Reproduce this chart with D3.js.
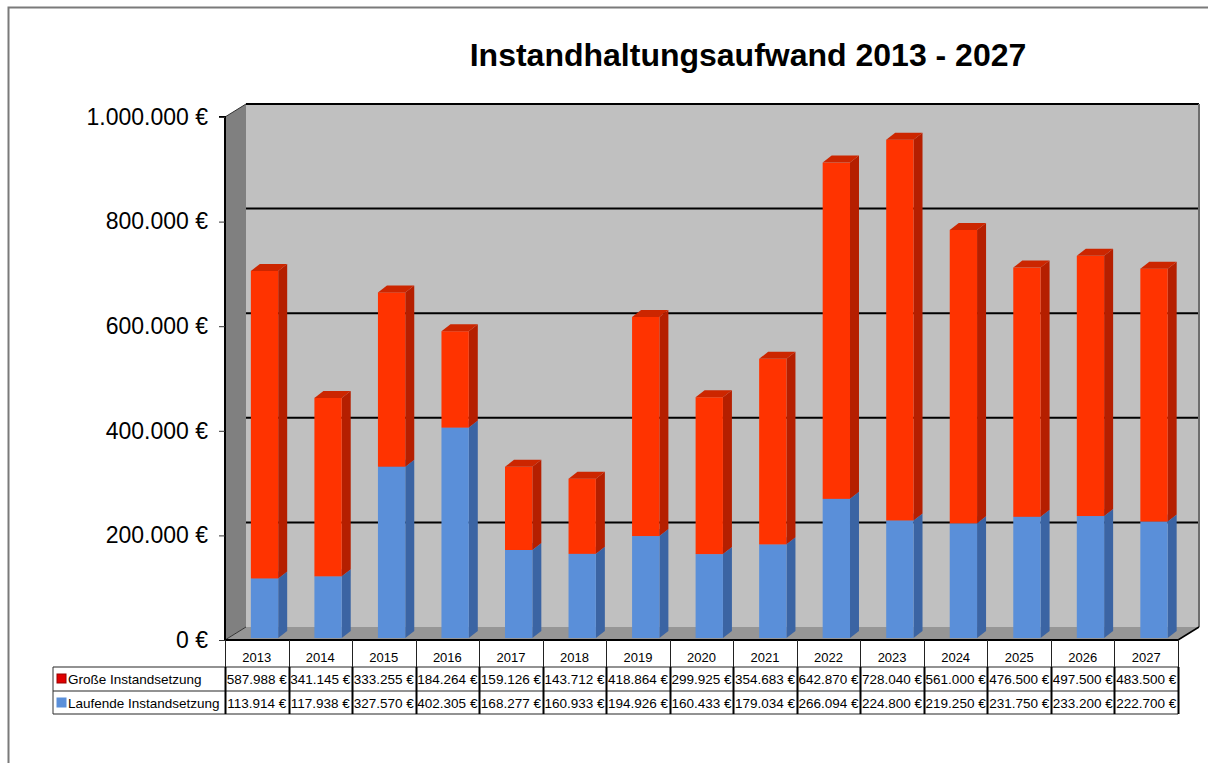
<!DOCTYPE html>
<html>
<head>
<meta charset="utf-8">
<script src="https://cdn.jsdelivr.net/npm/d3@7"></script>
<style>
  html, body { margin: 0; background: #fff; overflow: hidden; }
  svg { display: block; }
  text { font-family: "Liberation Sans", Arial, sans-serif; }
</style>
</head>
<body>
<div class="content"></div>
<script>
// chart data
var years = ["2013", "2014", "2015", "2016", "2017", "2018", "2019", "2020",
  "2021", "2022", "2023", "2024", "2025", "2026", "2027"];
var grosse = [587988, 341145, 333255, 184264, 159126, 143712, 418864, 299925,
  354683, 642870, 728040, 561000, 476500, 497500, 483500];
var laufende = [113914, 117938, 327570, 402305, 168277, 160933, 194926, 160433,
  179034, 266094, 224800, 219250, 231750, 233200, 222700];
var yTicks = [0, 200000, 400000, 600000, 800000, 1000000];
var seriesNames = ["Große Instandsetzung", "Laufende Instandsetzung"];

var svgWidth = 1208;
var svgHeight = 763;

// plot area (front plane)
var plot = { left: 225, right: 1178, top: 117, bottom: 640 };
// 3d offsets
var wall = { dx: 21, dy: -13 };
var barOff = { dx: 3, dy: -2 };
var barDepth = { dx: 9, dy: -7 };

var de = d3.formatLocale({ decimal: ",", thousands: ".", grouping: [3], currency: ["", " €"] });
var fmt = de.format(",.0f");
var euro = d => fmt(d) + " €";

var svg = d3.select(".content")
  .append("svg")
  .attr("width", svgWidth)
  .attr("height", svgHeight);

// outer frame (only top and left edges are inside the picture)
svg.append("path")
  .attr("d", `M8.5,${svgHeight}V7.5H${svgWidth}`)
  .attr("fill", "none")
  .attr("stroke", "#7a7a7a")
  .attr("stroke-width", 2);

// title
svg.append("text")
  .attr("x", 748).attr("y", 66)
  .attr("text-anchor", "middle")
  .style("font-size", "32px")
  .style("font-weight", "bold")
  .text("Instandhaltungsaufwand 2013 - 2027");

var x = d3.scaleBand()
  .domain(years)
  .range([plot.left, plot.right]);

var y = d3.scaleLinear()
  .domain([0, 1000000])
  .range([plot.bottom, plot.top]);

var bw = x.bandwidth();

function pts(arr) { return arr.map(p => p.join(",")).join(" "); }

// back wall
var bx0 = plot.left + wall.dx, bx1 = plot.right + wall.dx;
var by0 = plot.top + wall.dy, by1 = plot.bottom + wall.dy;
svg.append("rect")
  .attr("x", bx0).attr("y", by0)
  .attr("width", bx1 - bx0).attr("height", by1 - by0)
  .attr("fill", "#c0c0c0");

// left wall
svg.append("polygon")
  .attr("points", pts([[plot.left, plot.top], [bx0, by0], [bx0, by1], [plot.left, plot.bottom]]))
  .attr("fill", "#808080");

// floor
svg.append("polygon")
  .attr("points", pts([[plot.left, plot.bottom], [bx0, by1], [bx1, by1], [plot.right, plot.bottom]]))
  .attr("fill", "#969696");

// gridlines on back wall
svg.append("g").selectAll("line")
  .data(yTicks.filter(d => d > 0))
  .enter().append("line")
  .attr("x1", bx0).attr("x2", bx1)
  .attr("y1", d => y(d) + wall.dy).attr("y2", d => y(d) + wall.dy)
  .attr("stroke", "#000")
  .attr("stroke-width", 2);

// right edge of back wall
svg.append("line")
  .attr("x1", bx1).attr("x2", bx1)
  .attr("y1", by0).attr("y2", by1)
  .attr("stroke", "#6e6e6e").attr("stroke-width", 2);

// floor edges
svg.append("polyline")
  .attr("points", pts([[plot.left, plot.bottom], [bx0, by1]]))
  .attr("fill", "none").attr("stroke", "#333").attr("stroke-width", 1);
svg.append("polyline")
  .attr("points", pts([[plot.right, plot.bottom], [bx1, by1]]))
  .attr("fill", "none").attr("stroke", "#000").attr("stroke-width", 1.5);
svg.append("polyline")
  .attr("points", pts([[plot.left, plot.top], [bx0, by0]]))
  .attr("fill", "none").attr("stroke", "#333").attr("stroke-width", 1);

// bars
var stacked = years.map((yr, i) => ({
  year: yr,
  segs: [
    { lo: 0, hi: laufende[i], front: "#5a8fd9", side: "#3b64a3", top: "#4a7cc4" },
    { lo: laufende[i], hi: laufende[i] + grosse[i], front: "#ff3300", side: "#b51f00", top: "#cc2600" }
  ]
}));

var barsG = svg.append("g");
stacked.forEach(function(d) {
  var fx0 = x(d.year) + bw * 0.36 + barOff.dx;
  var fx1 = fx0 + bw * 0.43;
  d.segs.forEach(function(s) {
    var yt = y(s.hi) + barOff.dy, yb = y(s.lo) + barOff.dy;
    barsG.append("polygon")
      .attr("points", pts([[fx1, yt], [fx1 + barDepth.dx, yt + barDepth.dy],
        [fx1 + barDepth.dx, yb + barDepth.dy], [fx1, yb]]))
      .attr("fill", s.side);
    barsG.append("rect")
      .attr("x", fx0).attr("y", yt)
      .attr("width", fx1 - fx0).attr("height", yb - yt)
      .attr("fill", s.front);
    barsG.append("polygon")
      .attr("points", pts([[fx0, yt], [fx0 + barDepth.dx, yt + barDepth.dy],
        [fx1 + barDepth.dx, yt + barDepth.dy], [fx1, yt]]))
      .attr("fill", s.top);
  });
});

// y axis (front)
var leftAxis = d3.axisLeft(y)
  .tickValues(yTicks)
  .tickSize(6)
  .tickFormat(euro);
var yAxis = svg.append("g")
  .attr("transform", `translate(${plot.left}, 0)`)
  .call(leftAxis);
yAxis.select(".domain").attr("stroke", "#000").attr("stroke-width", 2)
  .attr("d", `M-6,${plot.top}H0V${plot.bottom}`);
yAxis.selectAll(".tick line").attr("stroke", "#333");
yAxis.selectAll(".tick text")
  .attr("x", -17)
  .style("font-size", "23px")
  .style("font-family", "'Liberation Sans', Arial, sans-serif")
  .attr("fill", "#000");

// floor front edge
svg.append("line")
  .attr("x1", plot.left).attr("x2", plot.right)
  .attr("y1", plot.bottom).attr("y2", plot.bottom)
  .attr("stroke", "#000").attr("stroke-width", 2);

// data table
var tbl = { left: 53, head: plot.bottom, r1: 667, r2: 691, r3: 714 };
var tg = svg.append("g");

// year headers
tg.selectAll("text.yr")
  .data(years)
  .enter().append("text")
  .attr("class", "yr")
  .attr("x", d => x(d) + bw / 2)
  .attr("y", 662)
  .attr("text-anchor", "middle")
  .style("font-size", "13px")
  .text(d => d);

var rows = [
  { name: seriesNames[0], vals: grosse, color: "#e00000", edge: "#900", top: tbl.r1 },
  { name: seriesNames[1], vals: laufende, color: "#5a8fd9", edge: "#5a8fd9", top: tbl.r2 }
];
rows.forEach(function(r) {
  tg.append("rect")
    .attr("x", tbl.left + 4).attr("y", r.top + 7)
    .attr("width", 9).attr("height", 9)
    .attr("fill", r.color).attr("stroke", r.edge).attr("stroke-width", 1);
  tg.append("text")
    .attr("x", tbl.left + 15).attr("y", r.top + 17)
    .style("font-size", "13.5px")
    .text(r.name);
  tg.selectAll(null)
    .data(r.vals)
    .enter().append("text")
    .attr("x", (d, i) => x(years[i]) + bw / 2)
    .attr("y", r.top + 17)
    .attr("text-anchor", "middle")
    .style("font-size", "13.5px")
    .text(d => euro(d));
});

// table lines
[tbl.r1, tbl.r2, tbl.r3].forEach(function(yy) {
  tg.append("line")
    .attr("x1", tbl.left).attr("x2", plot.right)
    .attr("y1", yy).attr("y2", yy)
    .attr("stroke", "#6e6e6e").attr("stroke-width", 1.5);
});
tg.append("line")
  .attr("x1", tbl.left).attr("x2", tbl.left)
  .attr("y1", tbl.r1).attr("y2", tbl.r3)
  .attr("stroke", "#333").attr("stroke-width", 1);
var bounds = years.map(d => x(d)).concat([plot.right]);
tg.selectAll("line.vb")
  .data(bounds)
  .enter().append("line")
  .attr("class", "vb")
  .attr("x1", d => Math.round(d) + 0.5).attr("x2", d => Math.round(d) + 0.5)
  .attr("y1", tbl.head).attr("y2", tbl.r1)
  .attr("stroke", "#222").attr("stroke-width", 1);
tg.selectAll("line.vr")
  .data(bounds)
  .enter().append("line")
  .attr("class", "vr")
  .attr("x1", d => Math.round(d) + 0.5).attr("x2", d => Math.round(d) + 0.5)
  .attr("y1", tbl.r1).attr("y2", tbl.r3)
  .attr("stroke", "#000").attr("stroke-width", 2);
</script>
</body>
</html>
